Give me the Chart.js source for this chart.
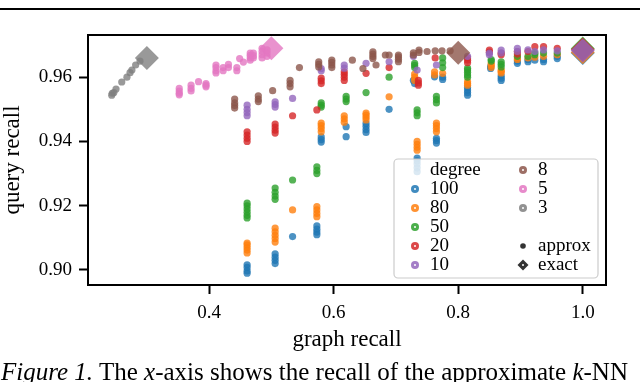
<!DOCTYPE html>
<html>
<head>
<meta charset="utf-8">
<script src="https://cdn.jsdelivr.net/npm/chart.js@4"></script>
<style>
  html, body { margin: 0; padding: 0; background: #fff; }
  #wrap { position: relative; width: 640px; height: 382px; overflow: hidden; }
  #rule { position: absolute; left: 0; top: 8px; width: 640px; height: 2px; background: #000; }
  #caption { position: absolute; left: 1px; top: 358px; font-family: "Liberation Serif", serif; font-size: 25px; white-space: nowrap; color: #000; }
  canvas { position: absolute; left: 0; top: 0; }
</style>
</head>
<body>
<div id="wrap">
  <div id="rule"></div>
  <canvas id="chart" width="640" height="382"></canvas>
  <div id="caption"><i>Figure 1.</i> The <i>x</i>-axis shows the recall of the approximate <i>k</i>-NN</div>
</div>
<script>
// graph recall vs query recall, one series per graph degree

const degrees = ['100', '80', '50', '20', '10', '8', '5', '3'];
const xTicks = [0.4, 0.6, 0.8, 1.0];
const yTicks = [0.90, 0.92, 0.94, 0.96];

// approximate k-NN graphs: [graph recall, query recall]
const approx100 = [
  [0.461,0.8990],[0.461,0.8997],[0.461,0.9008],[0.461,0.9016],
  [0.506,0.9020],[0.506,0.9030],[0.506,0.9040],[0.506,0.9050],
  [0.534,0.9104],
  [0.573,0.9110],[0.573,0.9118],[0.573,0.9127],[0.573,0.9137],
  [0.580,0.9398],[0.580,0.9406],[0.580,0.9414],
  [0.620,0.9415],[0.620,0.9446],
  [0.652,0.9428],[0.652,0.9437],[0.652,0.9447],[0.652,0.9456],
  [0.689,0.9500],
  [0.734,0.9306],[0.734,0.9318],[0.734,0.9330],[0.734,0.9340],[0.734,0.9348],
  [0.730,0.9580],[0.728,0.9590],
  [0.765,0.9395],[0.765,0.9403],[0.765,0.9410],
  [0.762,0.9601],[0.775,0.9593],[0.775,0.9600],
  [0.815,0.9544],[0.815,0.9552],[0.815,0.9560],[0.815,0.9568],
  [0.852,0.9627],[0.852,0.9633],
  [0.869,0.9590],[0.869,0.9597],[0.869,0.9604],
  [0.895,0.9643],[0.895,0.9650],
  [0.912,0.9648],[0.912,0.9655],
  [0.923,0.9653],
  [0.937,0.9648],[0.937,0.9655],
  [0.959,0.9658],[0.959,0.9665]
];
const approx80 = [
  [0.461,0.9053],[0.461,0.9062],[0.461,0.9070],[0.461,0.9078],[0.461,0.9084],
  [0.506,0.9087],[0.506,0.9098],[0.506,0.9108],[0.506,0.9119],[0.506,0.9130],
  [0.534,0.9187],
  [0.573,0.9166],[0.573,0.9176],[0.573,0.9187],[0.573,0.9197],
  [0.580,0.9430],[0.580,0.9440],[0.580,0.9449],[0.580,0.9457],
  [0.617,0.9460],[0.617,0.9470],[0.617,0.9480],
  [0.652,0.9467],[0.652,0.9475],[0.652,0.9482],[0.652,0.9488],
  [0.689,0.9539],
  [0.734,0.9373],[0.734,0.9382],[0.734,0.9391],[0.734,0.9400],
  [0.730,0.9590],[0.730,0.9600],[0.730,0.9610],
  [0.765,0.9430],[0.765,0.9440],[0.765,0.9449],[0.765,0.9457],
  [0.762,0.9607],[0.762,0.9617],[0.775,0.9612],
  [0.815,0.9575],[0.815,0.9580],[0.815,0.9586],
  [0.853,0.9630],[0.853,0.9637],[0.853,0.9643],
  [0.869,0.9613],[0.869,0.9618],[0.869,0.9622],
  [0.895,0.9655],[0.895,0.9660],
  [0.912,0.9660],
  [0.923,0.9662],
  [0.937,0.9665],
  [0.959,0.9670]
];
const approx50 = [
  [0.461,0.9162],[0.461,0.9170],[0.461,0.9180],[0.461,0.9190],[0.461,0.9200],[0.461,0.9208],
  [0.506,0.9220],[0.506,0.9230],[0.506,0.9242],[0.506,0.9255],
  [0.534,0.9280],
  [0.573,0.9300],[0.573,0.9310],[0.573,0.9321],
  [0.580,0.9507],[0.580,0.9513],[0.580,0.9520],
  [0.620,0.9524],[0.620,0.9532],[0.620,0.9540],
  [0.652,0.9552],
  [0.689,0.9600],
  [0.734,0.9480],[0.734,0.9489],[0.734,0.9498],
  [0.730,0.9630],[0.730,0.9637],[0.730,0.9643],
  [0.765,0.9520],[0.765,0.9530],[0.765,0.9540],
  [0.775,0.9630],[0.775,0.9645],[0.775,0.9660],
  [0.815,0.9600],[0.815,0.9607],[0.815,0.9615],[0.815,0.9622],[0.815,0.9628],
  [0.853,0.9650],[0.853,0.9655],
  [0.869,0.9632],[0.869,0.9640],[0.869,0.9648],
  [0.895,0.9665],
  [0.912,0.9665],
  [0.923,0.9670],[0.923,0.9675],
  [0.937,0.9675],
  [0.959,0.9675]
];
const approx20 = [
  [0.461,0.9400],[0.461,0.9410],[0.461,0.9420],[0.461,0.9430],
  [0.506,0.9426],[0.506,0.9435],[0.506,0.9445],[0.506,0.9454],
  [0.534,0.9480],
  [0.573,0.9498],
  [0.580,0.9580],[0.580,0.9589],[0.580,0.9597],
  [0.617,0.9590],[0.617,0.9600],[0.617,0.9609],[0.617,0.9617],
  [0.652,0.9612],
  [0.689,0.9630],
  [0.736,0.9575],[0.736,0.9582],[0.736,0.9590],
  [0.763,0.9660],
  [0.815,0.9645],[0.815,0.9653],[0.815,0.9660],
  [0.850,0.9678],[0.850,0.9684],
  [0.869,0.9670],[0.869,0.9675],
  [0.895,0.9672],[0.895,0.9680],
  [0.912,0.9680],
  [0.923,0.9695],
  [0.937,0.9695],
  [0.959,0.9690]
];
const approx10 = [
  [0.461,0.9480],[0.461,0.9490],[0.461,0.9500],[0.461,0.9513],
  [0.506,0.9507],[0.506,0.9515],[0.506,0.9523],
  [0.534,0.9534],
  [0.580,0.9620],[0.580,0.9627],
  [0.617,0.9628],[0.617,0.9638],
  [0.652,0.9643],
  [0.689,0.9648],
  [0.734,0.9622],[0.728,0.9665],
  [0.765,0.9638],
  [0.815,0.9665],
  [0.850,0.9670],[0.850,0.9675],
  [0.869,0.9675],[0.869,0.9684],
  [0.895,0.9680],[0.895,0.9690],
  [0.912,0.9685],
  [0.923,0.9680],
  [0.937,0.9685],
  [0.959,0.9682]
];
const approx8 = [
  [0.441,0.9504],[0.441,0.9512],[0.441,0.9520],[0.441,0.9532],
  [0.479,0.9524],[0.479,0.9532],[0.479,0.9542],
  [0.502,0.9558],
  [0.530,0.9570],[0.530,0.9580],[0.530,0.9590],
  [0.545,0.9630],
  [0.576,0.9632],[0.576,0.9640],[0.576,0.9648],
  [0.597,0.9630],[0.597,0.9638],[0.597,0.9646],[0.597,0.9653],
  [0.630,0.9653],
  [0.647,0.9627],
  [0.663,0.9658],[0.663,0.9665],[0.663,0.9672],[0.663,0.9679],
  [0.668,0.9638],
  [0.683,0.9669],
  [0.689,0.9669],
  [0.704,0.9648],[0.704,0.9656],[0.704,0.9663],[0.704,0.9669],
  [0.728,0.9669],[0.728,0.9676],
  [0.737,0.9677],[0.737,0.9684],
  [0.750,0.9680],
  [0.763,0.9682],
  [0.774,0.9682],
  [0.787,0.9682]
];
const approx5 = [
  [0.352,0.9545],[0.352,0.9550],[0.352,0.9557],[0.352,0.9565],
  [0.371,0.9557],[0.371,0.9565],[0.371,0.9575],
  [0.383,0.9586],
  [0.395,0.9570],[0.395,0.9575],[0.395,0.9580],
  [0.411,0.9613],[0.411,0.9620],[0.411,0.9630],[0.411,0.9638],
  [0.4225,0.9620],[0.4225,0.9630],
  [0.431,0.9630],[0.431,0.9640],
  [0.4445,0.9620],[0.4445,0.9630],
  [0.449,0.9658],
  [0.455,0.9647],
  [0.466,0.9653],[0.466,0.9660],[0.466,0.9668],[0.466,0.9675],
  [0.471,0.9660],[0.471,0.9667],[0.471,0.9675],
  [0.485,0.9660],[0.485,0.9670],[0.485,0.9680],[0.485,0.9690],
  [0.493,0.9665],[0.493,0.9675],[0.493,0.9685]
];
const approx3 = [
  [0.2436,0.9544],[0.2445,0.9550],[0.247,0.9552],
  [0.2505,0.9563],
  [0.2597,0.9585],
  [0.268,0.9600],
  [0.273,0.9614],
  [0.276,0.9622],
  [0.282,0.9638],
  [0.289,0.9650]
];

// exact k-NN graphs: one point per degree
const exactPoints = [
  [1.0, 0.9675], [1.0, 0.9678], [1.0, 0.9689], [1.0, 0.9686], [1.0, 0.9683],
  [0.80, 0.9676], [0.50, 0.9690], [0.30, 0.9660]
];

const approxSets = [approx100, approx80, approx50, approx20, approx10, approx8, approx5, approx3];
const colors = ['31,119,180', '255,127,14', '44,160,44', '214,39,40', '148,103,189', '140,86,75', '227,119,194', '127,127,127'];

const FONT = '"Liberation Serif", serif';

// build datasets, later ones drawn on top (like matplotlib)
const datasets = [];
degrees.forEach((deg, i) => {
  datasets.push({
    label: deg + ' approx',
    data: approxSets[i].map(p => ({ x: p[0], y: p[1] })),
    pointStyle: 'circle',
    pointRadius: 3.6,
    borderWidth: 0,
    backgroundColor: `rgba(${colors[i]},0.8)`
  });
});
degrees.forEach((deg, i) => {
  datasets.push({
    label: deg + ' exact',
    data: [{ x: exactPoints[i][0], y: exactPoints[i][1] }],
    pointStyle: 'rectRot',
    pointRadius: 12,
    borderWidth: 0,
    backgroundColor: `rgba(${colors[i]},0.8)`
  });
});
datasets.forEach((d, i) => { d.order = datasets.length - i; });

// full box around plot area
const framePlugin = {
  id: 'frame',
  afterDraw(chart) {
    const { ctx, chartArea: a } = chart;
    ctx.save();
    ctx.strokeStyle = '#000';
    ctx.lineWidth = 2;
    ctx.strokeRect(a.left, a.top, a.right - a.left, a.bottom - a.top);
    ctx.restore();
  }
};

// two column legend in lower right corner
const legendPlugin = {
  id: 'cornerLegend',
  afterDraw(chart) {
    const ctx = chart.ctx;
    const bx = 394, by = 159, bw = 204, bh = 119, r = 4;
    ctx.save();
    ctx.beginPath();
    ctx.moveTo(bx + r, by);
    ctx.arcTo(bx + bw, by, bx + bw, by + bh, r);
    ctx.arcTo(bx + bw, by + bh, bx, by + bh, r);
    ctx.arcTo(bx, by + bh, bx, by, r);
    ctx.arcTo(bx, by, bx + bw, by, r);
    ctx.closePath();
    ctx.fillStyle = 'rgba(255,255,255,0.8)';
    ctx.fill();
    ctx.strokeStyle = '#cccccc';
    ctx.lineWidth = 1.2;
    ctx.stroke();

    ctx.font = '19px ' + FONT;
    ctx.textBaseline = 'middle';
    ctx.textAlign = 'left';
    const rowY = i => 170 + i * 19;
    const dot = (x, y, c) => {
      ctx.beginPath();
      ctx.arc(x, y, 4, 0, Math.PI * 2);
      ctx.fillStyle = `rgba(${c},0.85)`;
      ctx.fill();
      ctx.beginPath();
      ctx.arc(x, y, 1, 0, Math.PI * 2);
      ctx.fillStyle = '#fff';
      ctx.fill();
    };
    ctx.fillStyle = '#000';
    ctx.fillText('degree', 430, rowY(0));
    for (let i = 0; i < 5; i++) {
      dot(415, rowY(i + 1), colors[i]);
      ctx.fillStyle = '#000';
      ctx.fillText(degrees[i], 430, rowY(i + 1));
    }
    for (let i = 5; i < 8; i++) {
      dot(523, rowY(i - 5), colors[i]);
      ctx.fillStyle = '#000';
      ctx.fillText(degrees[i], 538, rowY(i - 5));
    }
    // approx marker
    ctx.beginPath();
    ctx.arc(523, rowY(4), 2.8, 0, Math.PI * 2);
    ctx.fillStyle = '#333';
    ctx.fill();
    ctx.fillStyle = '#000';
    ctx.fillText('approx', 538, rowY(4));
    // exact marker
    const ey = rowY(5);
    ctx.beginPath();
    ctx.moveTo(523 - 5.5, ey); ctx.lineTo(523, ey - 5.5); ctx.lineTo(523 + 5.5, ey); ctx.lineTo(523, ey + 5.5);
    ctx.closePath();
    ctx.fillStyle = '#333';
    ctx.fill();
    ctx.beginPath();
    ctx.arc(523, ey, 1, 0, Math.PI * 2);
    ctx.fillStyle = '#fff';
    ctx.fill();
    ctx.fillStyle = '#000';
    ctx.fillText('exact', 538, ey);
    ctx.restore();
  }
};

const ctx = document.getElementById('chart').getContext('2d');
new Chart(ctx, {
  type: 'scatter',
  data: { datasets: datasets },
  plugins: [framePlugin, legendPlugin],
  options: {
    responsive: false,
    animation: false,
    events: [],
    layout: { padding: { left: 0, top: 35, right: 34, bottom: 31 } },
    plugins: { legend: { display: false }, tooltip: { enabled: false } },
    scales: {
      x: {
        type: 'linear',
        min: 0.2055,
        max: 1.0373,
        afterBuildTicks: s => { s.ticks = xTicks.map(v => ({ value: v })); },
        afterFit: s => { s.height = 66; },
        border: { display: false },
        grid: { display: true, drawOnChartArea: false, drawTicks: true, tickLength: 9, tickWidth: 2, tickColor: '#000' },
        ticks: { color: '#000', font: { family: FONT, size: 19 }, padding: 8, maxRotation: 0, callback: v => v.toFixed(1) },
        title: { display: true, text: 'graph recall', color: '#000', font: { family: FONT, size: 23, lineHeight: 1 }, padding: 0 }
      },
      y: {
        type: 'linear',
        min: 0.89533,
        max: 0.97313,
        afterBuildTicks: s => { s.ticks = yTicks.map(v => ({ value: v })); },
        afterFit: s => { s.width = 88; },
        border: { display: false },
        grid: { display: true, drawOnChartArea: false, drawTicks: true, tickLength: 9, tickWidth: 2, tickColor: '#000' },
        ticks: { color: '#000', font: { family: FONT, size: 19 }, padding: 7, callback: v => v.toFixed(2) },
        title: { display: true, text: 'query recall', color: '#000', font: { family: FONT, size: 23, lineHeight: 1 }, padding: { top: 1, bottom: 0 } }
      }
    }
  }
});
</script>
</body>
</html>
